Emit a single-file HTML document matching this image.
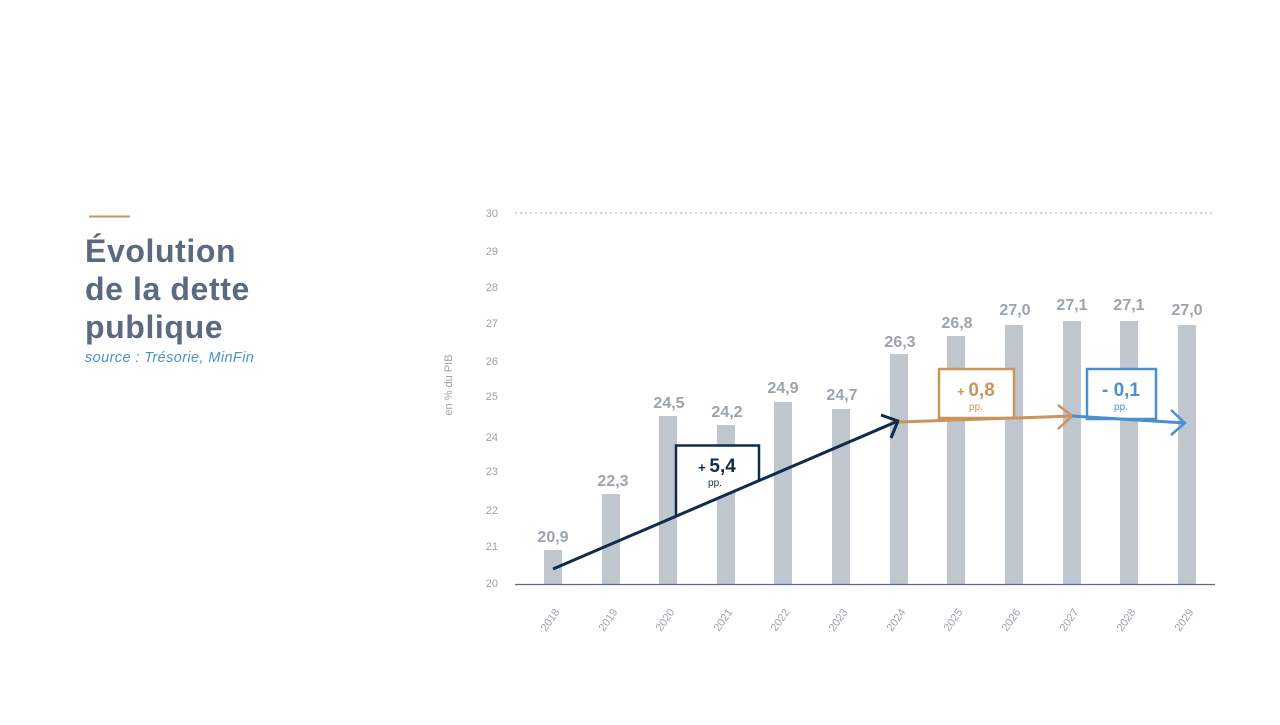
<!DOCTYPE html>
<html><head><meta charset="utf-8"><style>
body{margin:0;width:1280px;height:720px;background:#fff;overflow:hidden;font-family:"Liberation Sans",sans-serif;}
</style></head><body>
<svg width="1280" height="720" viewBox="0 0 1280 720" xmlns="http://www.w3.org/2000/svg" font-family="Liberation Sans, sans-serif">
<line x1="89" y1="216.5" x2="130" y2="216.5" stroke="#c9955a" stroke-width="2"/>
<g fill="#5b6a80" font-weight="bold" font-size="32" letter-spacing="0.6">
<text x="85" y="262">Évolution</text>
<text x="85" y="300">de la dette</text>
<text x="85" y="338">publique</text>
</g>
<text x="85" y="362" fill="#4a90d0" font-style="italic" font-size="14.5" letter-spacing="0.4">source : Trésorie, MinFin</text>
<line x1="515" y1="213" x2="1215" y2="213" stroke="#aab0b8" stroke-dasharray="2,3"/>
<g fill="#9aa3ae" font-size="11" text-anchor="end">
<text x="498" y="217">30</text><text x="498" y="255">29</text><text x="498" y="291">28</text><text x="498" y="327">27</text><text x="498" y="365">26</text><text x="498" y="400">25</text><text x="498" y="441">24</text><text x="498" y="475">23</text><text x="498" y="514">22</text><text x="498" y="550">21</text><text x="498" y="587">20</text>
</g>
<text transform="translate(452,385) rotate(-90)" text-anchor="middle" fill="#9aa3ae" font-size="11">en % du PIB</text>
<g fill="#c0c6ce">
<rect x="544" y="550" width="18" height="34"/>
<rect x="602" y="494" width="18" height="90"/>
<rect x="659" y="416" width="18" height="168"/>
<rect x="717" y="425" width="18" height="159"/>
<rect x="774" y="402" width="18" height="182"/>
<rect x="832" y="409" width="18" height="175"/>
<rect x="890" y="354" width="18" height="230"/>
<rect x="947" y="336" width="18" height="248"/>
<rect x="1005" y="325" width="18" height="259"/>
<rect x="1063" y="321" width="18" height="263"/>
<rect x="1120" y="321" width="18" height="263"/>
<rect x="1178" y="325" width="18" height="259"/>
</g>
<line x1="515" y1="584.5" x2="1215" y2="584.5" stroke="#5b6a80" stroke-width="1.2"/>
<g fill="#9aa3ae" font-size="16" font-weight="bold" text-anchor="middle">
<text x="553" y="542">20,9</text><text x="613" y="486">22,3</text><text x="669" y="408">24,5</text><text x="727" y="417">24,2</text><text x="783" y="393">24,9</text><text x="842" y="400">24,7</text><text x="900" y="347">26,3</text><text x="957" y="328">26,8</text><text x="1015" y="315">27,0</text><text x="1072" y="310">27,1</text><text x="1129" y="310">27,1</text><text x="1187" y="315">27,0</text>
</g>
<g fill="#9aa3ae" font-size="11" text-anchor="middle">
<text transform="translate(553,622) rotate(-55)">2018</text>
<text transform="translate(611,622) rotate(-55)">2019</text>
<text transform="translate(668,622) rotate(-55)">2020</text>
<text transform="translate(726,622) rotate(-55)">2021</text>
<text transform="translate(783,622) rotate(-55)">2022</text>
<text transform="translate(841,622) rotate(-55)">2023</text>
<text transform="translate(899,622) rotate(-55)">2024</text>
<text transform="translate(956,622) rotate(-55)">2025</text>
<text transform="translate(1014,622) rotate(-55)">2026</text>
<text transform="translate(1072,622) rotate(-55)">2027</text>
<text transform="translate(1129,622) rotate(-55)">2028</text>
<text transform="translate(1187,622) rotate(-55)">2029</text>
</g>
<path d="M676,517 V445.5 H759 V482" fill="#fff" stroke="#0f2d4a" stroke-width="2.5"/>
<line x1="553" y1="569" x2="898" y2="421" stroke="#0f2d4a" stroke-width="3"/>
<path d="M881,415 L898,421 L891,438" fill="none" stroke="#0f2d4a" stroke-width="3"/>
<text x="717" y="472" text-anchor="middle" fill="#0f2d4a" font-weight="bold" font-size="19"><tspan font-size="13">+ </tspan>5,4</text>
<text x="715" y="486" text-anchor="middle" fill="#0f2d4a" font-size="10">pp.</text>
<rect x="939" y="369" width="75" height="49" fill="#fff" stroke="#c9955a" stroke-width="2.5"/>
<line x1="899" y1="422" x2="1072" y2="416" stroke="#c9955a" stroke-width="3"/>
<path d="M1058,405 L1072,416 L1058,429" fill="none" stroke="#c9955a" stroke-width="2.5"/>
<text x="976" y="396" text-anchor="middle" fill="#c9955a" font-weight="bold" font-size="19"><tspan font-size="13">+ </tspan>0,8</text>
<text x="976" y="410" text-anchor="middle" fill="#c9955a" font-size="10">pp.</text>
<rect x="1087" y="369" width="69" height="50" fill="#fff" stroke="#4a90d0" stroke-width="2.5"/>
<line x1="1072" y1="416" x2="1185" y2="423" stroke="#4a90d0" stroke-width="3"/>
<path d="M1171,410 L1185,423 L1171,435" fill="none" stroke="#4a90d0" stroke-width="2.5"/>
<text x="1121" y="396" text-anchor="middle" fill="#4a90d0" font-weight="bold" font-size="19">- 0,1</text>
<text x="1121" y="410" text-anchor="middle" fill="#4a90d0" font-size="10">pp.</text>
</svg>
</body></html>
